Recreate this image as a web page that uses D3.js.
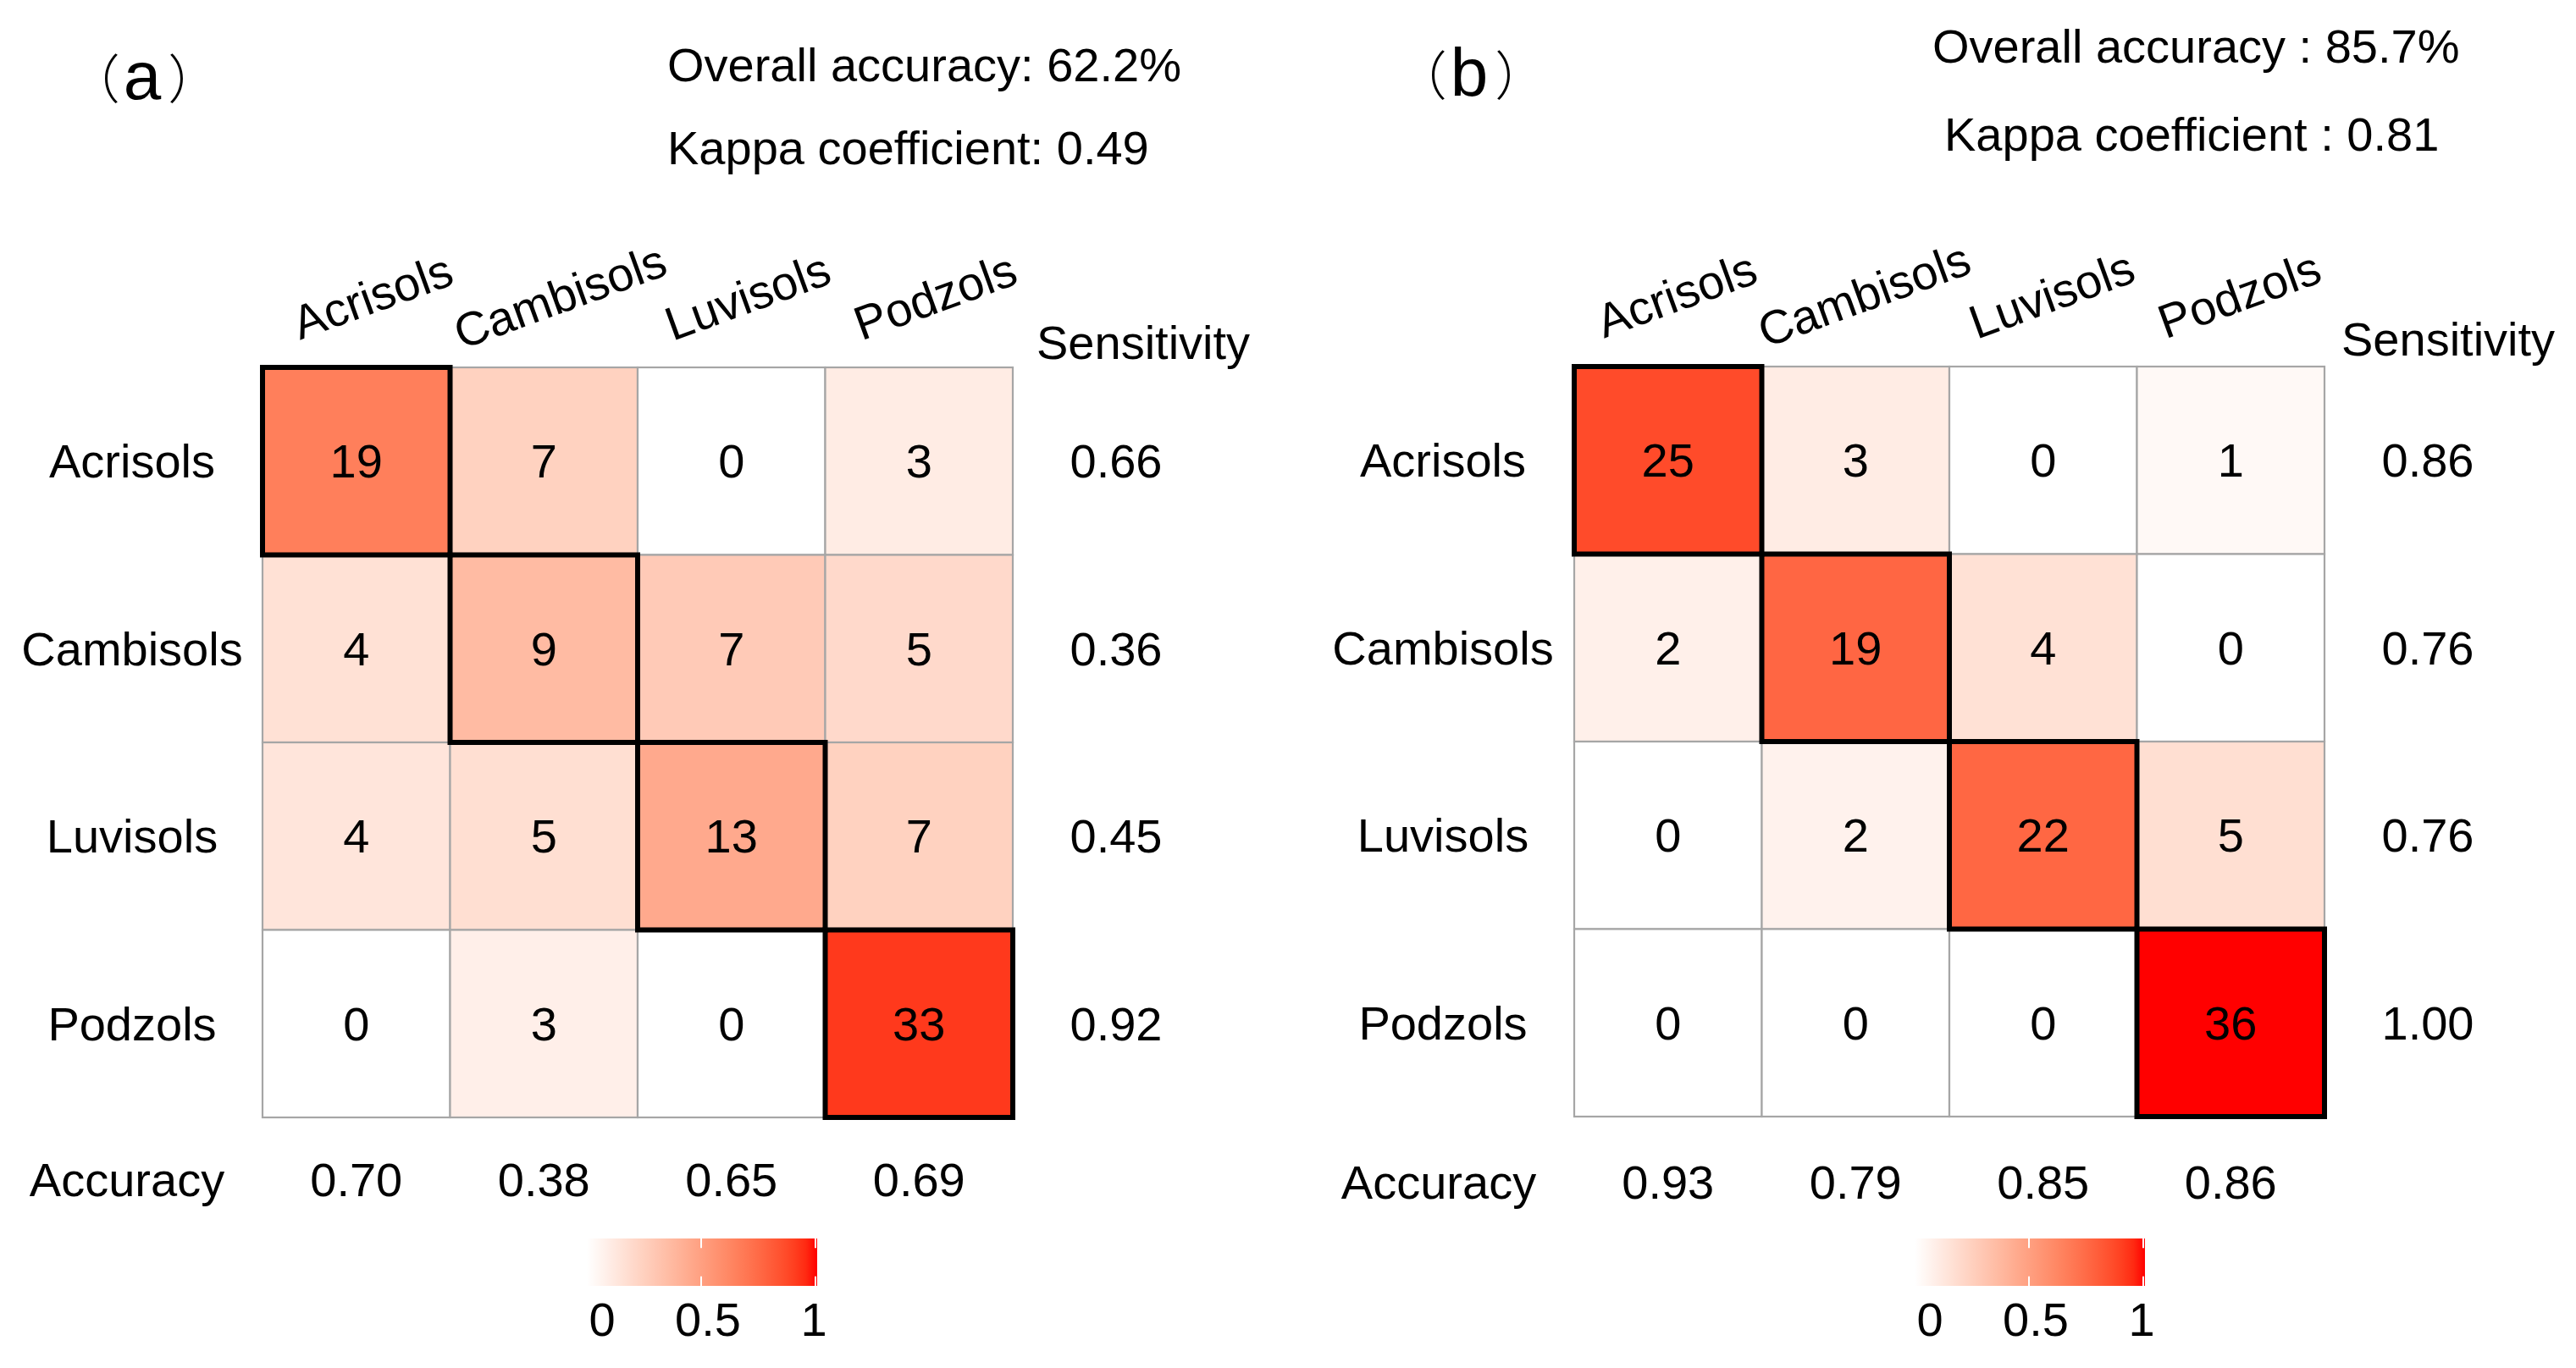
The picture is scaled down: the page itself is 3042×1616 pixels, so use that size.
<!DOCTYPE html>
<html>
<head>
<meta charset="utf-8">
<script src="https://cdn.jsdelivr.net/npm/d3@7"></script>
<style>
  html, body { margin: 0; padding: 0; background: #fff; }
  svg { display: block; }
  text { font-family: "Liberation Sans", Arial, sans-serif; fill: #000; }
</style>
</head>
<body>
<svg id="chart" width="3042" height="1616"></svg>
<script>
// ---------------- data ----------------
const classes = ["Acrisols", "Cambisols", "Luvisols", "Podzols"];

const matrixA = [
  [19, 7, 0, 3],
  [4, 9, 7, 5],
  [4, 5, 13, 7],
  [0, 3, 0, 33]
];
const sensitivityA = ["0.66", "0.36", "0.45", "0.92"];
const accuracyA = ["0.70", "0.38", "0.65", "0.69"];
const overallTextA = "Overall accuracy: 62.2%";
const kappaTextA = "Kappa coefficient: 0.49";

const matrixB = [
  [25, 3, 0, 1],
  [2, 19, 4, 0],
  [0, 2, 22, 5],
  [0, 0, 0, 36]
];
const sensitivityB = ["0.86", "0.76", "0.76", "1.00"];
const accuracyB = ["0.93", "0.79", "0.85", "0.86"];
const overallTextB = "Overall accuracy : 85.7%";
const kappaTextB = "Kappa coefficient : 0.81";

const legendTicks = [0, 0.5, 1];
const legendTickLabels = ["0", "0.5", "1"];

// ---------------- drawing ----------------
const svg = d3.select("#chart");
const color = d3.scaleSequential(d3.interpolateLab("#ffffff", "#ff0000")).domain([0, 1]);

const defs = svg.append("defs");
const grad = defs.append("linearGradient").attr("id", "lg").attr("x1", "0%").attr("x2", "100%");
d3.range(0, 1.0001, 0.05).forEach(t => {
  grad.append("stop").attr("offset", (t * 100) + "%").attr("stop-color", color(t));
});

function drawPanel(cfg) {
  const g = svg.append("g");
  const n = classes.length;
  const x = d3.scaleBand().domain(classes).range([cfg.x0, cfg.x0 + cfg.size * n]);
  const y = d3.scaleBand().domain(classes).range([cfg.y0, cfg.y0 + cfg.size * n]);
  const bw = x.bandwidth();

  // panel label (a)/(b)
  const lab = g.append("text")
    .attr("x", cfg.labelX).attr("y", cfg.labelY)
    .attr("text-anchor", "middle");
  lab.append("tspan").text("（")
    .style("font-family", "'Noto Sans CJK SC'").style("font-weight", 300).style("font-size", "62px");
  lab.append("tspan").text(cfg.letter).attr("dx", 4).style("font-size", "80px");
  lab.append("tspan").text("）").attr("dx", 8)
    .style("font-family", "'Noto Sans CJK SC'").style("font-weight", 300).style("font-size", "62px");

  // header stats
  g.append("text").attr("x", cfg.statX).attr("y", cfg.overallY)
    .style("font-size", "56px").text(cfg.overall);
  g.append("text").attr("x", cfg.statX2).attr("y", cfg.kappaY)
    .style("font-size", "56px").text(cfg.kappa);

  // cells
  const cells = [];
  cfg.matrix.forEach((row, i) => {
    const rs = d3.sum(row);
    row.forEach((v, j) => cells.push({ r: classes[i], c: classes[j], v, p: rs ? v / rs : 0, diag: i === j }));
  });

  g.selectAll("rect.cell").data(cells).join("rect")
    .attr("class", "cell")
    .attr("x", d => x(d.c)).attr("y", d => y(d.r))
    .attr("width", bw).attr("height", bw)
    .attr("fill", d => color(d.p))
    .attr("stroke", "#a6a6a6").attr("stroke-width", 2.2);

  g.selectAll("rect.diag").data(cells.filter(d => d.diag)).join("rect")
    .attr("class", "diag")
    .attr("x", d => x(d.c)).attr("y", d => y(d.r))
    .attr("width", bw).attr("height", bw)
    .attr("fill", "none")
    .attr("stroke", "#000").attr("stroke-width", 6);

  g.selectAll("text.val").data(cells).join("text")
    .attr("class", "val")
    .attr("x", d => x(d.c) + bw / 2).attr("y", d => y(d.r) + bw / 2)
    .attr("text-anchor", "middle").attr("dominant-baseline", "central")
    .style("font-size", "56px")
    .text(d => d.v);

  // column labels (rotated)
  g.selectAll("text.col").data(classes).join("text")
    .attr("class", "col")
    .attr("text-anchor", "middle").attr("dominant-baseline", "central")
    .attr("transform", d => `translate(${x(d) + bw / 2 + cfg.colDx},${cfg.colY}) rotate(-20)`)
    .style("font-size", "56px")
    .text(d => d);

  // row labels
  g.selectAll("text.row").data(classes).join("text")
    .attr("class", "row")
    .attr("x", cfg.x0 + cfg.rowDx).attr("y", d => y(d) + bw / 2)
    .attr("text-anchor", "middle").attr("dominant-baseline", "central")
    .style("font-size", "56px")
    .text(d => d);

  // sensitivity
  const xr = cfg.x0 + cfg.size * n;
  g.append("text").attr("x", xr + cfg.sensHeadDx).attr("y", cfg.sensHeadY)
    .style("font-size", "56px").text("Sensitivity");
  g.selectAll("text.sens").data(cfg.sens).join("text")
    .attr("class", "sens")
    .attr("x", xr + 122).attr("y", (d, i) => y(classes[i]) + bw / 2)
    .attr("text-anchor", "middle").attr("dominant-baseline", "central")
    .style("font-size", "56px")
    .text(d => d);

  // accuracy row
  g.append("text").attr("x", cfg.x0 - 160).attr("y", cfg.accY)
    .attr("text-anchor", "middle")
    .style("font-size", "56px").text("Accuracy");
  g.selectAll("text.acc").data(cfg.acc).join("text")
    .attr("class", "acc")
    .attr("x", (d, i) => x(classes[i]) + bw / 2).attr("y", cfg.accY)
    .attr("text-anchor", "middle")
    .style("font-size", "56px")
    .text(d => d);

  // legend
  const lx0 = cfg.legX, lw = 272, ly = 1463, lh = 56;
  const ls = d3.scaleLinear().domain([0, 1]).range([lx0, lx0 + lw - 2]);
  const lsLab = d3.scaleLinear().domain([0, 1]).range([lx0 + 18, lx0 + 268]);
  g.append("rect").attr("x", lx0).attr("y", ly).attr("width", lw).attr("height", lh)
    .attr("fill", "url(#lg)");
  legendTicks.forEach(t => {
    g.append("line").attr("x1", ls(t)).attr("x2", ls(t)).attr("y1", ly).attr("y2", ly + lh * 0.2)
      .attr("stroke", "#fff").attr("stroke-width", 2);
    g.append("line").attr("x1", ls(t)).attr("x2", ls(t)).attr("y1", ly + lh * 0.8).attr("y2", ly + lh)
      .attr("stroke", "#fff").attr("stroke-width", 2);
  });
  g.selectAll("text.leg").data(legendTicks).join("text")
    .attr("class", "leg")
    .attr("x", d => lsLab(d)).attr("y", 1578)
    .attr("text-anchor", "middle")
    .style("font-size", "56px")
    .text((d, i) => legendTickLabels[i]);
}

drawPanel({
  letter: "a", matrix: matrixA, sens: sensitivityA, acc: accuracyA,
  overall: overallTextA, kappa: kappaTextA,
  x0: 310, y0: 434, size: 221.5,
  labelX: 170, labelY: 117,
  statX: 788, statX2: 788, overallY: 96, kappaY: 194,
  colDx: 19, colY: 350, rowDx: -154, sensHeadDx: 28, sensHeadY: 424, accY: 1413,
  legX: 693
});

drawPanel({
  letter: "b", matrix: matrixB, sens: sensitivityB, acc: accuracyB,
  overall: overallTextB, kappa: kappaTextB,
  x0: 1859, y0: 433, size: 221.5,
  labelX: 1737, labelY: 113,
  statX: 2282, statX2: 2296, overallY: 74, kappaY: 178,
  colDx: 10, colY: 348, rowDx: -155, sensHeadDx: 20, sensHeadY: 420, accY: 1416,
  legX: 2261
});
</script>
</body>
</html>
